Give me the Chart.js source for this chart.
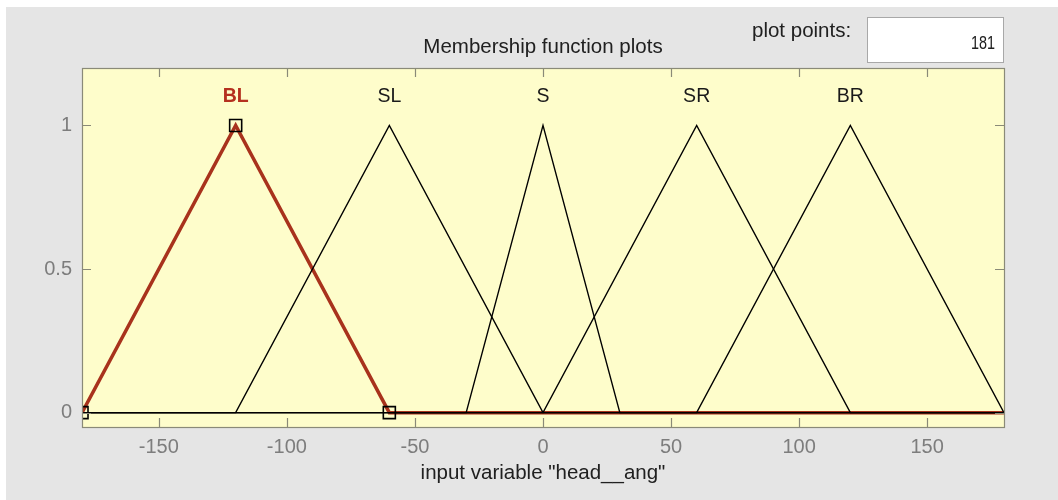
<!DOCTYPE html>
<html>
<head>
<meta charset="utf-8">
<title>Membership function plots</title>
<script src="https://cdn.jsdelivr.net/npm/chart.js@4.4.1/dist/chart.umd.min.js"></script>
<style>
  html, body { margin: 0; padding: 0; background: #ffffff; }
  #panel { position: absolute; left: 6px; top: 7px; width: 1052px; height: 493px; background: #e5e5e5; }
  #wrap { position: absolute; left: 0; top: 0; width: 1058px; height: 500px; }
  #ppLabel { position: absolute; left: 752px; top: 18px; font: 20.5px "Liberation Sans", Arial, sans-serif;
             line-height: 24px; color: #202020; }
  #ppBox { position: absolute; left: 867px; top: 17px; width: 137px; height: 46px; box-sizing: border-box;
           background: #ffffff; border: 1px solid #a8a8a8; text-align: right; padding-right: 8px;
           font: 18px "Liberation Sans", Arial, sans-serif; line-height: 50px; color: #202020; }
  #ppValue { display: inline-block; transform: scaleX(0.8); transform-origin: right center; }
</style>
</head>
<body>
<div id="panel"></div>
<div id="wrap"><canvas id="mf" width="1058" height="500"></canvas></div>
<div id="ppLabel">plot points:</div>
<div id="ppBox"><span id="ppValue"></span></div>
<script>
// Input variable "head__ang": triangular membership functions [left, peak, right]
const varRange = [-180, 180];
const mfNames = ['BL', 'SL', 'S', 'SR', 'BR'];
const mfLeft  = [-180, -120, -30,   0,  60];
const mfPeak  = [-120,  -60,   0,  60, 120];
const mfRight = [ -60,    0,  30, 120, 180];
const selectedMf = 0;           // BL is the highlighted function
const xTicks = [-150, -100, -50, 0, 50, 100, 150];
const yTicks = [0, 0.5, 1];
const plotPoints = 181;
const plotTitle = 'Membership function plots';

document.getElementById('ppValue').textContent = String(plotPoints);

const FONT = '"Liberation Sans", Arial, sans-serif';
const RED = '#a8321c';

// Each triangle is drawn across the whole input range (zero outside its support)
function triPoints(i) {
  return [
    { x: varRange[0], y: 0 },
    { x: mfLeft[i], y: 0 },
    { x: mfPeak[i], y: 1 },
    { x: mfRight[i], y: 0 },
    { x: varRange[1], y: 0 }
  ];
}

const datasets = [];
// vertex handles of the selected function
datasets.push({
  label: mfNames[selectedMf] + ' vertices',
  data: [
    { x: mfLeft[selectedMf], y: 0 },
    { x: mfPeak[selectedMf], y: 1 },
    { x: mfRight[selectedMf], y: 0 }
  ],
  showLine: false,
  pointStyle: 'rect',
  pointRadius: 8.5,
  pointBorderWidth: 1.6,
  pointBorderColor: '#000000',
  pointBackgroundColor: 'rgba(0,0,0,0)',
  clip: 0,
  order: 0
});
mfNames.forEach((name, i) => {
  const sel = i === selectedMf;
  datasets.push({
    label: name,
    data: triPoints(i),
    showLine: true,
    borderColor: sel ? RED : '#000000',
    borderWidth: sel ? 3.5 : 1.4,
    pointRadius: 0,
    tension: 0,
    order: sel ? 2 : 1
  });
});

// light-yellow axes background
const axesBackground = {
  id: 'axesBackground',
  beforeDatasetsDraw(chart) {
    const { ctx, chartArea: a } = chart;
    ctx.save();
    ctx.fillStyle = '#fefdcb';
    ctx.fillRect(a.left, a.top, a.right - a.left, a.bottom - a.top);
    ctx.restore();
  }
};

// boxed frame with inward tick marks on all four sides
const axesFrame = {
  id: 'axesFrame',
  afterDatasetsDraw(chart) {
    const { ctx, chartArea: a, scales } = chart;
    const len = 9;
    ctx.save();
    ctx.strokeStyle = '#8a8a78';
    ctx.lineWidth = 1.2;
    ctx.beginPath();
    xTicks.forEach(v => {
      const px = Math.round(scales.x.getPixelForValue(v)) + 0.5;
      ctx.moveTo(px, a.bottom); ctx.lineTo(px, a.bottom - len);
      ctx.moveTo(px, a.top); ctx.lineTo(px, a.top + len);
    });
    yTicks.forEach(v => {
      const py = Math.round(scales.y.getPixelForValue(v)) + 0.5;
      ctx.moveTo(a.left, py); ctx.lineTo(a.left + len, py);
      ctx.moveTo(a.right, py); ctx.lineTo(a.right - len, py);
    });
    ctx.stroke();
    ctx.strokeRect(Math.round(a.left) + 0.5, Math.round(a.top) + 0.5,
                   Math.round(a.right - a.left), Math.round(a.bottom - a.top));
    ctx.restore();
  }
};

// function names above each peak, and the plot title centred over the axes
const mfLabels = {
  id: 'mfLabels',
  afterDatasetsDraw(chart) {
    const { ctx, scales, chartArea: a } = chart;
    ctx.save();
    ctx.textAlign = 'center';
    ctx.textBaseline = 'middle';
    mfNames.forEach((name, i) => {
      const sel = i === selectedMf;
      ctx.font = (sel ? 'bold ' : '') + '19.5px ' + FONT;
      ctx.fillStyle = sel ? '#b5301f' : '#1a1a1a';
      ctx.fillText(name, scales.x.getPixelForValue(mfPeak[i]), scales.y.getPixelForValue(1.1));
    });
    ctx.font = '20.5px ' + FONT;
    ctx.fillStyle = '#202020';
    ctx.fillText(plotTitle, (a.left + a.right) / 2, a.top - 21);
    ctx.restore();
  }
};

new Chart(document.getElementById('mf'), {
  type: 'scatter',
  data: { datasets },
  options: {
    responsive: false,
    animation: false,
    events: [],
    layout: { padding: { left: 0, right: 54, top: 68, bottom: 0 } },
    plugins: {
      legend: { display: false },
      tooltip: { enabled: false },
      title: { display: false }
    },
    scales: {
      x: {
        type: 'linear',
        min: varRange[0],
        max: varRange[1],
        grid: { display: false },
        border: { display: false },
        afterBuildTicks: s => { s.ticks = xTicks.map(v => ({ value: v })); },
        afterFit: s => { s.height = 73; },
        ticks: {
          color: '#7d7d7d',
          font: { family: FONT, size: 20 },
          padding: 0,
          maxRotation: 0,
          callback: v => String(v)
        },
        title: {
          display: true,
          text: 'input variable "head__ang"',
          color: '#202020',
          font: { family: FONT, size: 20.5, lineHeight: 1.2 },
          padding: { top: 2, bottom: 14.7 }
        }
      },
      y: {
        type: 'linear',
        min: -0.05,
        max: 1.2,
        grid: { display: false },
        border: { display: false },
        afterBuildTicks: s => { s.ticks = yTicks.map(v => ({ value: v })); },
        afterFit: s => { s.width = 82; },
        ticks: {
          color: '#7d7d7d',
          font: { family: FONT, size: 20 },
          padding: 2,
          callback: v => String(v)
        }
      }
    }
  },
  plugins: [axesBackground, axesFrame, mfLabels]
});
</script>
</body>
</html>
